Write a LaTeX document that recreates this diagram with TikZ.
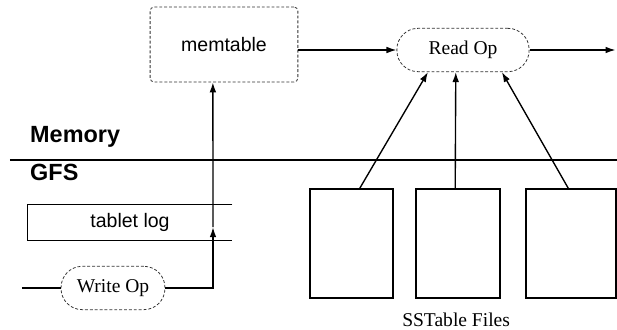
\documentclass[tikz,border=0pt]{standalone}
\usepackage{fontspec}
\setmainfont{Liberation Serif}
\setsansfont{Liberation Sans}
\usetikzlibrary{
  arrows.meta,
  positioning,
  calc
}

\begin{document}
\begin{tikzpicture}[
  font=\normalsize,
  membox/.style={
    rectangle, rounded corners=2pt, draw=black!80, dash pattern=on 1.5pt off 1pt,
    line width=0.4pt, minimum width=2.66cm, minimum height=1.35cm,
    align=center, font=\sffamily
  },
  opnode/.style={
    rectangle, rounded corners=0.38cm, draw=black!80, dash pattern=on 1.5pt off 1pt,
    line width=0.4pt, minimum height=0.78cm, align=center
  },
  sstfile/.style={
    rectangle, draw=black, line width=0.9pt,
    minimum width=1.5cm, minimum height=1.96cm
  },
  layer/.style={font=\sffamily\bfseries\fontsize{12}{14}\selectfont, anchor=west},
  flow/.style={-{Latex[length=1.8mm,width=1.2mm]}, black, line width=0.7pt},
]
\useasboundingbox (0,0) rectangle (11.106,5.94);

% Memory side
\node[membox] (memtable) at (4.032, 5.139) {memtable};
\node[opnode, minimum width=2.38cm] (readop) at (8.334, 5.04) {Read Op};
\coordinate (readout) at (11.08, 5.04);

% Layer divider
\node[layer] (memlbl) at (0.42, 3.47) {Memory};
\node[layer] (gfslbl) at (0.42, 2.84) {GFS};
\coordinate (divl) at (0.18, 3.06);
\coordinate (divr) at (11.106, 3.06);
\draw[line width=0.8pt] (divl) -- (divr);

% GFS side
\node[minimum width=3.67cm, minimum height=0.63cm, font=\sffamily] (tablog) at (2.34, 1.935) {tablet log};
\draw[line width=0.7pt] (tablog.north east) -- (tablog.north west)
  -- (tablog.south west) -- (tablog.south east);

\node[opnode, minimum width=1.87cm] (writeop) at (2.034, 0.756) {Write Op};
\coordinate (writein) at (0.396, 0.756);
\coordinate (logtap) at (3.834, 1.85);

\node[sstfile] (sst1) at (6.327, 1.557) {};
\node[sstfile] (sst2) at (8.244, 1.557) {};
\node[sstfile, minimum width=1.62cm] (sst3) at (10.278, 1.557) {};
\node (sstlbl) at (8.21, 0.19) {SSTable Files};

% Write path
\draw[line width=0.7pt] (writein) -- (writeop.west);
\draw[flow] (writeop.east) -| (logtap);
\draw[flow] (logtap) -- ([xshift=-0.2cm]memtable.south);

% Read path
\draw[flow] (memtable.east |- readop.west) -- (readop.west);
\draw[flow] (readop.east) -- (readout);
\draw[flow] ([xshift=0.15cm]sst1.north) -- ([xshift=-0.63cm]readop.south);
\draw[flow] ([xshift=-0.05cm]sst2.north) -- ([xshift=-0.13cm]readop.south);
\draw[flow] ([xshift=-0.05cm]sst3.north) -- ([xshift=0.70cm]readop.south);

\end{tikzpicture}
\end{document}
